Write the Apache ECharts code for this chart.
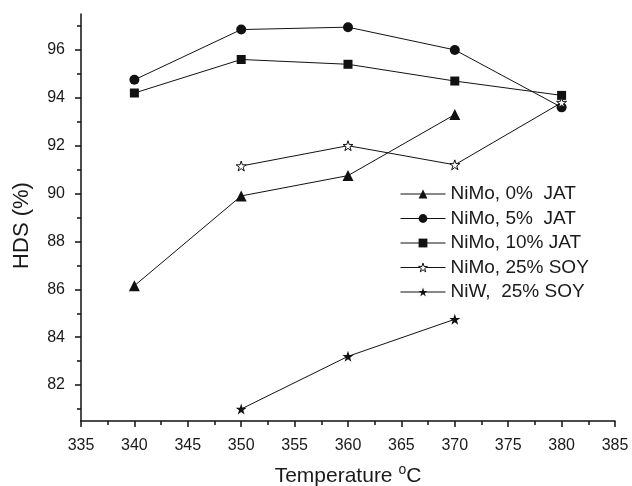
<!DOCTYPE html>
<html>
<head>
<meta charset="utf-8">
<style>
  html, body { margin: 0; padding: 0; background: #fff; }
  #main { width: 632px; height: 486px; }
</style>
<script src="https://cdn.jsdelivr.net/npm/echarts@6/dist/echarts.min.js"></script>
</head>
<body>
<div id="main"></div>
<script>
// temperatures (degC) and HDS (%)
var temps = [340, 350, 360, 370, 380];
var nimo0 = [86.15, 89.9, 90.75, 93.3, null];
var nimo5 = [94.75, 96.85, 96.95, 96.0, 93.6];
var nimo10 = [94.2, 95.6, 95.4, 94.7, 94.1];
var nimo25soy = [null, 91.15, 92.0, 91.2, 93.8];
var niw25soy = [null, 81.0, 83.2, 84.75, null];

var names = ['NiMo, 0%  JAT', 'NiMo, 5%  JAT', 'NiMo, 10% JAT', 'NiMo, 25% SOY', 'NiW,  25% SOY'];
var yMajor = [82, 84, 86, 88, 90, 92, 94, 96];
var yMinor = [81, 83, 85, 87, 89, 91, 93, 95, 97];

var star = 'path://M50,0 L61.8,35.1 L98.9,35.1 L69,57.3 L80.3,92.7 L50,70.7 L19.7,92.7 L31,57.3 L1.1,35.1 L38.2,35.1 Z';

function pairs(vals) {
    var out = [];
    for (var i = 0; i < temps.length; i++) {
        if (vals[i] != null) out.push([temps[i], vals[i]]);
    }
    return out;
}

function mkSeries(name, vals, symbol, size, fill) {
    return {
        type: 'line',
        name: name,
        data: pairs(vals),
        symbol: symbol,
        symbolSize: size,
        showAllSymbol: true,
        lineStyle: { color: '#111', width: 1 },
        itemStyle: { color: fill, borderColor: '#111', borderWidth: fill === '#fff' ? 1 : 0, opacity: 1 },
        emphasis: { disabled: true },
        z: 2
    };
}

var myChart = echarts.init(document.getElementById('main'));
var txt = '#1a1a1a';

option = {
    animation: false,
    grid: { left: 81, right: 17, top: 14, bottom: 65, outerBoundsMode: 'none', containLabel: false },
    legend: {
        data: names,
        orient: 'vertical',
        left: 400,
        top: 184,
        padding: 0,
        itemWidth: 45,
        itemHeight: 11,
        itemGap: 4.5,
        lineStyle: { width: 1, color: '#111' },
        itemStyle: { borderWidth: 'inherit' },
        textStyle: { fontFamily: 'Liberation Sans', fontSize: 19, color: txt, lineHeight: 20 },
        inactiveColor: '#111'
    },
    xAxis: {
        type: 'value',
        min: 335,
        max: 385,
        interval: 5,
        name: 'Temperature {sup|o}C',
        nameLocation: 'middle',
        nameGap: 42,
        nameTextStyle: {
            fontFamily: 'Liberation Sans', fontSize: 21, color: txt,
            rich: { sup: { fontFamily: 'Liberation Sans', fontSize: 14, color: txt, padding: [0, 0, 12, 0] } }
        },
        axisLine: { onZero: false, lineStyle: { color: '#111', width: 1.5 } },
        axisTick: { length: 6, lineStyle: { color: '#111', width: 1.5 } },
        minorTick: { show: true, splitNumber: 2, length: 4, lineStyle: { color: '#111', width: 1.5 } },
        axisLabel: { fontFamily: 'Liberation Sans', fontSize: 16, color: txt, margin: 17 },
        splitLine: { show: false }
    },
    yAxis: [{
        type: 'value',
        min: 80.5,
        max: 97.5,
        name: 'HDS (%)',
        nameLocation: 'middle',
        nameGap: 48,
        nameTextStyle: { fontFamily: 'Liberation Sans', fontSize: 22, color: txt, padding: [0, 16, 0, 0] },
        axisLine: { show: true, onZero: false, lineStyle: { color: '#111', width: 1.5 } },
        axisTick: { show: true, customValues: yMajor, length: 6, lineStyle: { color: '#111', width: 1.5 } },
        axisLabel: { customValues: yMajor, fontFamily: 'Liberation Sans', fontSize: 16, color: txt, margin: 16 },
        splitLine: { show: false }
    }, {
        type: 'value',
        position: 'left',
        min: 80.5,
        max: 97.5,
        axisLine: { show: false },
        axisTick: { show: true, customValues: yMinor, length: 4, lineStyle: { color: '#111', width: 1.5 } },
        axisLabel: { show: false },
        splitLine: { show: false }
    }],
    series: [
        mkSeries(names[0], nimo0, 'triangle', 11, '#111'),
        mkSeries(names[1], nimo5, 'circle', 10, '#111'),
        mkSeries(names[2], nimo10, 'rect', 9, '#111'),
        mkSeries(names[3], nimo25soy, star, 10, '#fff'),
        mkSeries(names[4], niw25soy, star, 11, '#111')
    ]
};

myChart.setOption(option, true);
window.addEventListener("resize", function () {
    myChart.resize();
});
</script>
</body>
</html>
